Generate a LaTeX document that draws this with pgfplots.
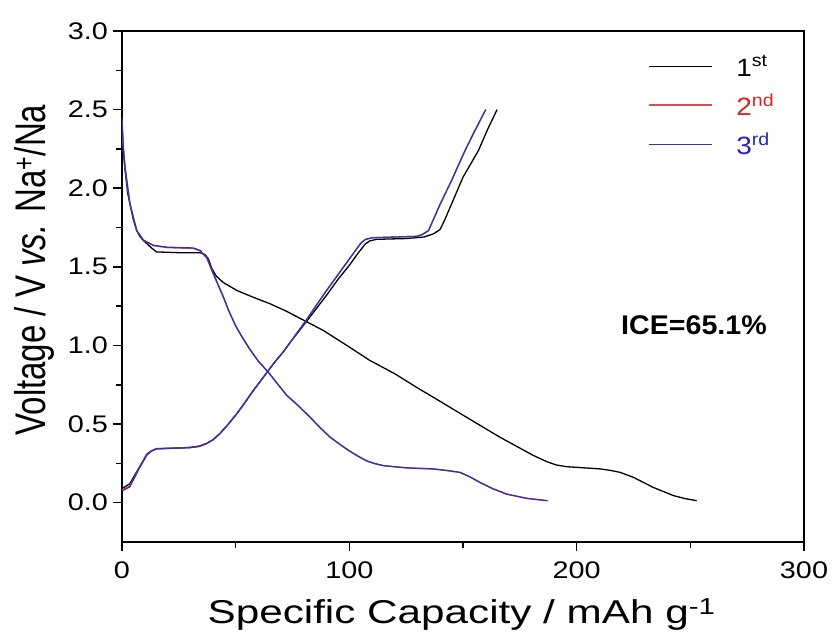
\documentclass[border=0pt]{standalone}
\usepackage{graphicx}
\usepackage{pgfplots}
\pgfplotsset{compat=1.18}
\usepackage{fontspec}
\setmainfont{Liberation Sans}
\newfontfamily\tickfont[FakeStretch=1.2]{Liberation Sans}
\newfontfamily\labfont[FakeStretch=1.28]{Liberation Sans}
\newfontfamily\legfont[FakeStretch=1.12]{Liberation Sans}
\definecolor{cred}{RGB}{215,35,35}
\definecolor{credl}{RGB}{215,80,80}
\definecolor{cblue}{RGB}{35,35,180}
\definecolor{cbluel}{RGB}{50,50,175}
\begin{document}
\begin{tikzpicture}
\path[use as bounding box] (-122pt,-95pt) rectangle (710pt,542pt);
\begin{axis}[
  scale only axis, width=682pt, height=511pt,
  xmin=0, xmax=300, ymin=-0.25, ymax=3.0,
  xtick={0,100,200,300}, ytick={0,0.5,1,1.5,2,2.5,3},
  minor x tick num=1, minor y tick num=1,
  xtick pos=lower, ytick pos=left, tick align=outside,
  major tick length=9pt, minor tick length=5.5pt,
  every tick/.style={line width=1.6pt, black},
  axis line style={line width=1.8pt},
  /pgf/number format/assume math mode=true,
  yticklabel style={/pgf/number format/fixed, /pgf/number format/fixed zerofill, /pgf/number format/precision=1, xshift=-1.5pt},
  ticklabel style={font=\tickfont\fontsize{24}{28}\selectfont},
  xticklabel style={yshift=-7pt},
  xlabel={\labfont\fontsize{33}{38}\selectfont Specific Capacity / mAh g\textsuperscript{-1}},
  ylabel={\scalebox{1}[1.3]{\fontsize{33}{38}\selectfont Voltage / V \textit{vs.} Na\textsuperscript{+}/Na}},
  xlabel style={at={(axis description cs:0.498,-0.160)}, anchor=base},
  ylabel style={at={(axis description cs:-0.128,0.532)}, anchor=center},
  legend style={at={(axis description cs:0.771,0.956)}, anchor=north west, draw=none, fill=none,
    font=\legfont\fontsize{25}{30}\selectfont, row sep=12pt, inner sep=0pt, column sep=22pt},
  legend cell align=left,
  legend image code/.code={\draw[#1] (0pt,0pt) -- (63pt,0pt);},
  every axis plot/.append style={line width=1.3pt},
]
% 1st discharge
\addplot[black, forget plot] coordinates {
(0,2.40) (0.5,2.25) (1.3,2.12) (2.5,1.97) (3.5,1.90) (5,1.80) (6.5,1.73) (8,1.69) (10,1.66) (13,1.62)
(15.2,1.595) (25,1.59) (34.3,1.59) (36.5,1.578) (38,1.55) (39.5,1.49) (41.5,1.44) (44.6,1.40) (50.5,1.35)
(58,1.305) (65,1.266) (72,1.22) (80,1.16) (88.6,1.095) (100,0.99) (109,0.905) (120,0.82) (130,0.73)
(137,0.67) (151.6,0.543) (166.3,0.416) (181,0.30) (187,0.26) (191,0.24) (195.6,0.229) (203,0.222) (210.3,0.215)
(215,0.205) (219.1,0.193) (225,0.161) (233.7,0.097) (242.6,0.045) (248,0.025) (252.8,0.013)};
% 1st charge
\addplot[black] coordinates {
(0,0.09) (3.4,0.12) (7.8,0.23) (11,0.31) (13,0.33) (15.2,0.344) (25,0.348) (30,0.352) (34,0.36) (37.3,0.378) (40,0.40)
(43.1,0.44) (46.5,0.495) (50.5,0.566) (54,0.635) (57.8,0.714) (61,0.775) (64.4,0.841) (67.5,0.9) (71,0.96)
(74,1.02) (77,1.075) (81,1.15) (85,1.225) (90,1.32) (95,1.42) (100,1.51) (104,1.59) (107,1.645) (109,1.665)
(112,1.675) (125,1.68) (132.9,1.69) (137,1.71) (139.9,1.737) (142,1.80) (150,2.07) (156.8,2.24) (161,2.38) (165,2.50)};
\addlegendentry{1\textsuperscript{st}}
% 2nd discharge
\addplot[credl, forget plot] coordinates {
(0,2.43) (0.5,2.27) (1.3,2.13) (3.5,1.90) (6.5,1.73) (9.4,1.67) (13.8,1.635) (20,1.622) (31.4,1.617)
(34.3,1.602) (37.3,1.555) (40.2,1.452) (44.6,1.305) (47,1.218) (50,1.123) (53,1.048) (56.3,0.973) (60,0.898)
(64.4,0.828) (68.5,0.753) (72.5,0.681) (77,0.623) (82.7,0.543) (87,0.478) (91.5,0.416) (96,0.368) (100,0.328)
(104,0.293) (107.6,0.265) (111,0.248) (115,0.235) (125,0.221) (137,0.214)
(143,0.204) (148.7,0.192) (153,0.164) (157.5,0.128) (163,0.089) (169.2,0.054) (178,0.027) (187.5,0.012)};
% 2nd charge
\addplot[credl] coordinates {
(0,0.08) (3.4,0.105) (7.8,0.226) (11,0.305) (13,0.329) (15.2,0.343) (29.9,0.35) (34,0.358) (37.3,0.376) (40,0.40)
(43.1,0.44) (46.5,0.495) (50.5,0.566) (54,0.635) (57.8,0.714) (61,0.775) (64.4,0.841) (67.5,0.9) (71,0.96)
(74,1.02) (77,1.08) (81,1.16) (85,1.245) (90,1.35) (95,1.45) (100,1.55) (103,1.61) (105,1.65) (107,1.674)
(110,1.685) (129.6,1.694) (132,1.705) (134.8,1.73) (140,1.90) (145,2.05) (150.9,2.24) (155,2.36) (160,2.50)};
\addlegendentry{\textcolor{cred}{2\textsuperscript{nd}}}
% 3rd discharge
\addplot[cbluel, forget plot] coordinates {
(0,2.45) (0.5,2.28) (1.3,2.14) (3.5,1.90) (6.5,1.73) (9.4,1.67) (13.8,1.637) (20,1.625) (31.4,1.62)
(34.3,1.605) (37.3,1.56) (40.2,1.457) (44.6,1.31) (47,1.22) (50,1.125) (53,1.05) (56.3,0.975) (60,0.9)
(64.4,0.83) (68.5,0.755) (72.5,0.683) (77,0.625) (82.7,0.545) (87,0.48) (91.5,0.418) (96,0.37) (100,0.33)
(104,0.295) (107.6,0.267) (111,0.25) (115,0.236) (125,0.222) (137,0.215)
(143,0.205) (148.7,0.193) (153,0.165) (157.5,0.129) (163,0.09) (169.2,0.055) (178,0.028) (186.8,0.013)};
% 3rd charge
\addplot[cbluel] coordinates {
(0,0.075) (3.4,0.10) (7.8,0.225) (11,0.305) (13,0.329) (15.2,0.342) (29.9,0.35) (34,0.358) (37.3,0.376) (40,0.40)
(43.1,0.44) (46.5,0.495) (50.5,0.566) (54,0.635) (57.8,0.714) (61,0.775) (64.4,0.841) (67.5,0.9) (71,0.96)
(74,1.02) (77,1.08) (81,1.16) (85,1.245) (90,1.35) (95,1.45) (100,1.55) (103,1.61) (105,1.65) (107,1.674)
(110,1.685) (129.6,1.694) (132,1.705) (134.8,1.73) (140,1.90) (145,2.05) (150.9,2.24) (155,2.36) (160,2.50)};
\addlegendentry{\textcolor{cblue}{3\textsuperscript{rd}}}
\node[font=\bfseries\fontsize{27}{32}\selectfont] at (axis cs:251.6,1.13) {\scalebox{1.06}[1]{ICE=65.1\%}};
\end{axis}
\end{tikzpicture}
\end{document}
